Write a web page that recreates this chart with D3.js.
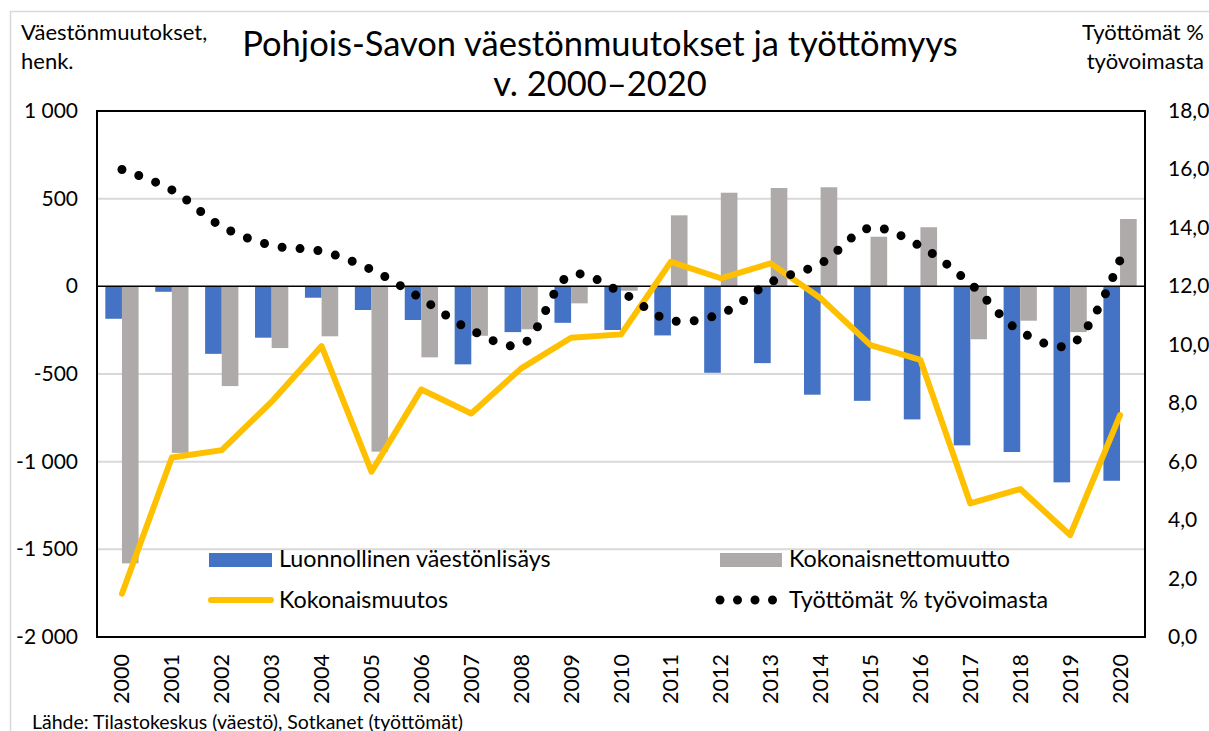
<!DOCTYPE html>
<html>
<head>
<meta charset="utf-8">
<script src="https://cdn.jsdelivr.net/npm/d3@7"></script>
<style>
  body { margin: 0; background: #fff; }
  svg text { font-family: Lato, "Open Sans", sans-serif; fill: #000; }
</style>
</head>
<body>
<svg id="chart" width="1209" height="731"></svg>
<script>
// data
var years = ['2000','2001','2002','2003','2004','2005','2006','2007','2008','2009','2010',
             '2011','2012','2013','2014','2015','2016','2017','2018','2019','2020'];
var luonnollinen = [-185,-31,-385,-293,-65,-135,-192,-445,-261,-208,-249,
                    -280,-493,-438,-618,-653,-759,-907,-945,-1118,-1109];
var nettomuutto = [-1580,-950,-569,-352,-285,-943,-405,-282,-245,-97,-25,
                   405,534,561,565,283,337,-302,-196,-261,384];
var kokonaismuutos = [-1753,-976,-934,-658,-341,-1057,-588,-725,-468,-293,-274,
                      140,46,131,-68,-335,-420,-1238,-1156,-1419,-734];
var tyottomat = [16.0,15.3,14.05,13.4,13.2,12.57,11.58,10.5,10.0,12.4,11.8,
                 10.83,11.06,12.14,12.78,14.0,13.37,12.09,10.46,9.99,12.9];
var leftTicks = [1000,500,0,-500,-1000,-1500,-2000];
var rightTicks = [0,2,4,6,8,10,12,14,16,18];

(function() {
var svg = d3.select('#chart');
var pLeft = 97, pRight = 1145, pTop = 111, pBottom = 637;

var x = d3.scaleBand().domain(years).range([pLeft,pRight]).padding(0);
var inner = d3.scaleBand().domain(['l','n']).range([0,x.bandwidth()]).paddingInner(0).paddingOuter(0.5);
var y = d3.scaleLinear().domain([-2000,1000]).range([pBottom,pTop]);
var y2 = d3.scaleLinear().domain([0,18]).range([pBottom,pTop]);

var fmtLeft = function(d){ return d3.format(',')(d).replace(/,/g,' ').replace('−','-'); };
var fmtRight = function(d){ return d3.format('.1f')(d).replace('.',','); };

// outer frame
svg.append('rect').attr('x',10.5).attr('y',11.5).attr('width',1300).attr('height',800)
   .attr('fill','none').attr('stroke','#d9d9d9').attr('stroke-width',1.5);

// gridlines
svg.append('g').selectAll('line').data(leftTicks.filter(function(d){ return d!==0 && d!==1000 && d!==-2000; }))
   .enter().append('line')
   .attr('x1',pLeft).attr('x2',pRight)
   .attr('y1',function(d){ return y(d); }).attr('y2',function(d){ return y(d); })
   .attr('stroke','#d9d9d9').attr('stroke-width',2);

// bars
var groups = svg.append('g').selectAll('g').data(years).enter().append('g')
   .attr('transform',function(d){ return 'translate('+x(d)+',0)'; });
groups.append('rect')
   .attr('x',inner('l')).attr('width',inner.bandwidth())
   .attr('y',function(d,i){ return y(Math.max(0,luonnollinen[i])); })
   .attr('height',function(d,i){ return Math.abs(y(luonnollinen[i])-y(0)); })
   .attr('fill','#4472c4');
groups.append('rect')
   .attr('x',inner('n')).attr('width',inner.bandwidth())
   .attr('y',function(d,i){ return y(Math.max(0,nettomuutto[i])); })
   .attr('height',function(d,i){ return Math.abs(y(nettomuutto[i])-y(0)); })
   .attr('fill','#aeaaaa');

// zero line
svg.append('line').attr('x1',pLeft).attr('x2',pRight).attr('y1',y(0)).attr('y2',y(0))
   .attr('stroke','#000').attr('stroke-width',1.5);

// plot border
svg.append('rect').attr('x',pLeft).attr('y',pTop).attr('width',pRight-pLeft).attr('height',pBottom-pTop)
   .attr('fill','none').attr('stroke','#000').attr('stroke-width',2);

var cx = function(i){ return x(years[i]) + x.bandwidth()/2; };

// kokonaismuutos line
var line1 = d3.line().x(function(d,i){ return cx(i); }).y(function(d){ return y(d); });
svg.append('path').datum(kokonaismuutos).attr('d',line1)
   .attr('fill','none').attr('stroke','#ffc000').attr('stroke-width',6)
   .attr('stroke-linejoin','round').attr('stroke-linecap','round');

// unemployment smoothed dotted line
var line2 = d3.line().curve(d3.curveCatmullRom.alpha(0.5))
   .x(function(d,i){ return cx(i); }).y(function(d){ return y2(d); });
svg.append('path').datum(tyottomat).attr('d',line2)
   .attr('fill','none').attr('stroke','#000').attr('stroke-width',9)
   .attr('stroke-linecap','round').attr('stroke-dasharray','0 18');

// left axis labels
svg.append('g').selectAll('text').data(leftTicks).enter().append('text')
   .attr('x',78).attr('y',function(d){ return y(d)+7; })
   .attr('text-anchor','end').attr('font-size',21)
   .text(fmtLeft);

// right axis labels
svg.append('g').selectAll('text').data(rightTicks).enter().append('text')
   .attr('x',1168).attr('y',function(d){ return y2(d)+7; })
   .attr('font-size',21)
   .text(fmtRight);

// year labels
svg.append('g').selectAll('text').data(years).enter().append('text')
   .attr('transform',function(d){ return 'translate('+(x(d)+x.bandwidth()/2+7.5)+',654) rotate(-90)'; })
   .attr('text-anchor','end').attr('font-size',21.5)
   .text(function(d){ return d; });

// titles
svg.append('text').attr('x',600).attr('y',56).attr('text-anchor','middle').attr('font-size',34.5)
   .text('Pohjois-Savon väestönmuutokset ja työttömyys');
svg.append('text').attr('x',600).attr('y',96).attr('text-anchor','middle').attr('font-size',34.5)
   .text('v. 2000–2020');

svg.append('text').attr('x',21).attr('y',40).attr('font-size',22).text('Väestönmuutokset,');
svg.append('text').attr('x',21).attr('y',69).attr('font-size',22).text('henk.');
svg.append('text').attr('x',1204).attr('y',40).attr('font-size',22).attr('text-anchor','end').text('Työttömät %');
svg.append('text').attr('x',1204).attr('y',69).attr('font-size',22).attr('text-anchor','end').text('työvoimasta');

// legend
var lg = svg.append('g');
lg.append('rect').attr('x',209).attr('y',553).attr('width',63).attr('height',14).attr('fill','#4472c4');
lg.append('text').attr('x',279).attr('y',567).attr('font-size',23.3).text('Luonnollinen väestönlisäys');
lg.append('line').attr('x1',211).attr('x2',271).attr('y1',600).attr('y2',600)
  .attr('stroke','#ffc000').attr('stroke-width',6).attr('stroke-linecap','round');
lg.append('text').attr('x',279).attr('y',608).attr('font-size',23.3).text('Kokonaismuutos');
lg.append('rect').attr('x',720).attr('y',553).attr('width',62).attr('height',14).attr('fill','#aeaaaa');
lg.append('text').attr('x',789).attr('y',567).attr('font-size',23.3).text('Kokonaisnettomuutto');
lg.append('line').attr('x1',720).attr('x2',773).attr('y1',600).attr('y2',600)
  .attr('stroke','#000').attr('stroke-width',9).attr('stroke-linecap','round').attr('stroke-dasharray','0 17.5');
lg.append('text').attr('x',789).attr('y',608).attr('font-size',23.3).text('Työttömät % työvoimasta');

// source
svg.append('text').attr('x',32).attr('y',729).attr('font-size',19.5)
   .text('Lähde: Tilastokeskus (väestö), Sotkanet (työttömät)');
})();
</script>
</body>
</html>
